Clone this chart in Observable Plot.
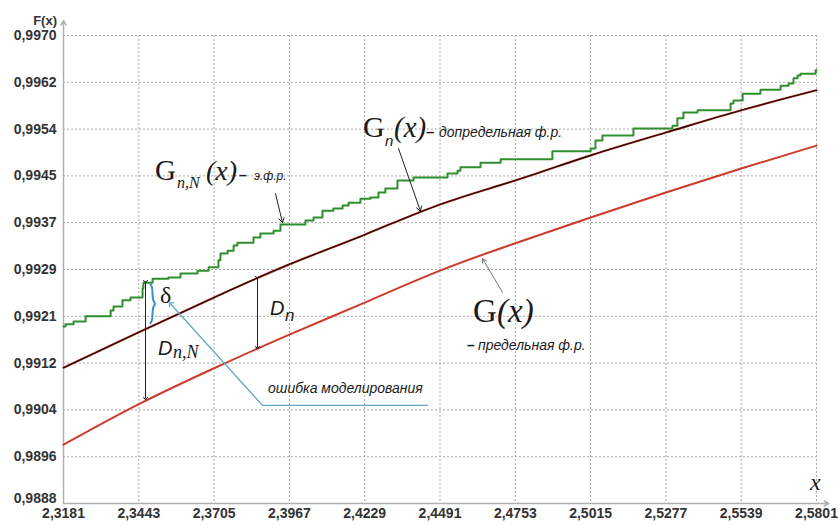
<!DOCTYPE html>
<html><head><meta charset="utf-8">
<script src="https://cdn.jsdelivr.net/npm/d3@7"></script>
<script src="https://cdn.jsdelivr.net/npm/@observablehq/plot@0.6"></script>
<style>
body{margin:0;background:#fff;}
#chart svg{display:block;}
</style></head><body><div id="chart"></div>
<script>
// ---- data ----
const xTickLabels = ["2,3181","2,3443","2,3705","2,3967","2,4229","2,4491","2,4753","2,5015","2,5277","2,5539","2,5801"];
const yTickLabels = ["0,9888","0,9896","0,9904","0,9912","0,9921","0,9929","0,9937","0,9945","0,9954","0,9962","0,9970"];
const xGrid = xTickLabels.map(s => +s.replace(",", "."));
// G(x) – limiting distribution, at grid x
const limitG = [0.98983,0.99054,0.99117,0.99176,0.99232,0.99288,0.99336,0.99381,0.99425,0.99467,0.99507];
// G_n(x) – pre-limit distribution, at grid x
const preG = [0.99118,0.99180,0.99241,0.99299,0.99351,0.99404,0.99446,0.99490,0.99530,0.99569,0.99604];
// G_{n,N}(x) – empirical distribution (step jumps)
const ecdfX = [2.3181,2.3188,2.3216,2.3258,2.3345,2.3355,2.3386,2.3414,2.3456,2.3459,2.3491,2.3546,2.3588,2.3647,2.3686,2.3720,2.3727,2.3752,2.3773,2.3786,2.3842,2.3866,2.3912,2.3936,2.4023,2.4051,2.4082,2.4120,2.4152,2.4173,2.4214,2.4249,2.4277,2.4301,2.4343,2.4399,2.4517,2.4552,2.4562,2.4632,2.4702,2.4882,2.5015,2.5032,2.5056,2.5164,2.5300,2.5317,2.5338,2.5387,2.5502,2.5512,2.5544,2.5606,2.5676,2.5704,2.5721,2.5735,2.5745,2.5798,2.5801];
const ecdfY = [0.99190,0.99194,0.99199,0.99208,0.99218,0.99225,0.99236,0.99241,0.99257,0.99267,0.99274,0.99276,0.99283,0.99288,0.99294,0.99306,0.99318,0.99323,0.99332,0.99337,0.99346,0.99353,0.99358,0.99369,0.99376,0.99381,0.99393,0.99397,0.99402,0.99407,0.99414,0.99416,0.99425,0.99432,0.99446,0.99451,0.99458,0.99463,0.99469,0.99477,0.99483,0.99497,0.99502,0.99516,0.99525,0.99537,0.99542,0.99555,0.99565,0.99569,0.99581,0.99586,0.99598,0.99605,0.99612,0.99616,0.99625,0.99630,0.99633,0.99639,0.99639];

// ---- build ----
const yDomain = [0.9888, 0.9970];
const xDomain = [xGrid[0], xGrid[xGrid.length - 1]];
const yTicks = yTickLabels.map((_, i) => yDomain[0] + i * (yDomain[1] - yDomain[0]) / (yTickLabels.length - 1));
const limData = xGrid.map((x, i) => ({x, y: limitG[i]}));
const preData = xGrid.map((x, i) => ({x, y: preG[i]}));
const ecdfData = ecdfX.map((x, i) => ({x, y: ecdfY[i]}));

const sans = "'Liberation Sans', Arial, sans-serif";
const serif = "'Liberation Serif', 'Times New Roman', serif";

const gridStyle = {stroke: "#a8a8a8", strokeOpacity: 1, strokeDasharray: "2,2", strokeWidth: 1};
const yAxisStyle = {tickSize: 0, tickPadding: 7, tickFormat: d => yTickLabels[yTicks.indexOf(d)], fontSize: 14, fontWeight: "bold", fill: "#333", label: null};

const plot = Plot.plot({
  width: 838, height: 525,
  marginLeft: 63, marginRight: 22, marginTop: 35, marginBottom: 22,
  style: {fontFamily: sans, background: "#fff", overflow: "visible"},
  x: {domain: xDomain},
  y: {domain: yDomain},
  marks: [
    Plot.gridX(xGrid.slice(1), gridStyle),
    Plot.gridY(yTicks.slice(1), gridStyle),
    Plot.axisX(xGrid, {tickSize: 0, tickPadding: 5, tickFormat: d => xTickLabels[xGrid.indexOf(d)], fontSize: 14, fontWeight: "bold", fill: "#333", label: null}),
    Plot.axisY(yTicks.slice(1), yAxisStyle),
    Plot.axisY(yTicks.slice(0, 1), {...yAxisStyle, dy: -5}),
    // axis lines with arrowheads
    Plot.arrow([
      {x1: xDomain[0], y1: yDomain[0], x2: 2.5843, y2: yDomain[0]},
      {x1: xDomain[0], y1: yDomain[0], x2: xDomain[0], y2: 0.99726}
    ], {x1: "x1", y1: "y1", x2: "x2", y2: "y2", stroke: "#b0b0b0", strokeWidth: 1.5, headLength: 5}),
    // curves
    Plot.line(limData, {x: "x", y: "y", stroke: "#cc3b2b", strokeWidth: 2, curve: "natural"}),
    Plot.line(preData, {x: "x", y: "y", stroke: "#b83a2a", strokeWidth: 2.2, curve: "natural"}),
    Plot.line(preData, {x: "x", y: "y", stroke: "#1a0505", strokeWidth: 1.1, curve: "natural"}),
    Plot.line(ecdfData, {x: "x", y: "y", stroke: "#2f8f2f", strokeWidth: 2, curve: "step-after"}),
    // pointer arrows
    Plot.arrow([
      {x1: 2.39186, y1: 0.99423, x2: 2.39430, y2: 0.99372},
      {x1: 2.43466, y1: 0.99502, x2: 2.44232, y2: 0.99392}
    ], {x1: "x1", y1: "y1", x2: "x2", y2: "y2", stroke: "#222", strokeWidth: 1, headLength: 8}),
    Plot.arrow([
      {x1: 2.47085, y1: 0.99250, x2: 2.46389, y2: 0.99309}
    ], {x1: "x1", y1: "y1", x2: "x2", y2: "y2", stroke: "#777", strokeWidth: 1, headLength: 7}),
    // D double arrows
    Plot.link([
      {x1: 2.34663, y1: 0.99269, x2: 2.34663, y2: 0.99064},
      {x1: 2.38560, y1: 0.99276, x2: 2.38560, y2: 0.99153}
    ], {x1: "x1", y1: "y1", x2: "x2", y2: "y2", stroke: "#222", strokeWidth: 1, markerStart: "arrow", markerEnd: "arrow"}),
    // modelling error pointer
    Plot.line([
      {x: 2.44475, y: 0.99052}, {x: 2.38734, y: 0.99052}, {x: 2.35533, y: 0.99230}
    ], {x: "x", y: "y", stroke: "#5fa8c8", strokeWidth: 1.3, markerEnd: "arrow"})
  ]
});
document.getElementById("chart").appendChild(plot);

const svg = d3.select(plot);
const X = v => plot.scale("x").apply(v);
const Y = v => plot.scale("y").apply(v);

function rich(xv, yv, parts, anchor = "start", fill = "#1a1a1a") {
  const t = svg.append("text").attr("text-anchor", anchor).attr("fill", fill);
  for (const p of parts) {
    t.append("tspan")
      .attr("x", X(xv) + (p.dx || 0)).attr("y", Y(yv) + (p.dy || 0))
      .attr("text-anchor", anchor)
      .style("font-family", p.serif ? serif : sans)
      .style("font-size", p.size + "px")
      .style("font-style", p.italic ? "italic" : "normal")
      .style("font-weight", p.bold ? "bold" : "normal")
      .text(p.t);
  }
}

// axis titles
rich(2.31601, 0.99718, [{t: "F(x)", size: 13, bold: true}], "end", "#333");
rich(2.57801, 0.98903, [{t: "x", size: 24, serif: true, italic: true}]);

// G_{n,N}(x) – э.ф.р.
rich(2.35011, 0.99446, [
  {t: "G", size: 29, serif: true},
  {t: "n,N", size: 16, serif: true, italic: true, dx: 22, dy: 8},
  {t: "(x)", size: 28, serif: true, italic: true, dx: 51},
  {t: "–", size: 14, bold: true, dx: 84},
  {t: "э.ф.р.", size: 12, italic: true, dx: 99}
]);
// G_n(x) – допредельная ф.р.
rich(2.42248, 0.99521, [
  {t: "G", size: 30, serif: true},
  {t: "n", size: 15, italic: true, dx: 22, dy: 9},
  {t: "(x)", size: 29, serif: true, italic: true, dx: 31},
  {t: "–", size: 15, bold: true, dx: 63},
  {t: "допредельная ф.р.", size: 14, italic: true, dx: 76}
]);
// G(x) – предельная ф.р.
rich(2.46076, 0.99197, [
  {t: "G", size: 33, serif: true},
  {t: "(x)", size: 33, serif: true, italic: true, dx: 24}
]);
rich(2.45867, 0.99148, [
  {t: "–", size: 14, bold: true},
  {t: "предельная ф.р.", size: 14, italic: true, dx: 11}
]);
// D_n
rich(2.39012, 0.99209, [
  {t: "D", size: 20, italic: true},
  {t: "n", size: 17, italic: true, dx: 15, dy: 6}
]);
// D_{n,N}
rich(2.35115, 0.99139, [
  {t: "D", size: 20, italic: true},
  {t: "n,N", size: 18, serif: true, italic: true, dx: 15, dy: 3}
]);
// delta
rich(2.35185, 0.99230, [{t: "δ", size: 24, serif: true}]);
// modelling error
rich(2.38943, 0.99073, [{t: "ошибка моделирования", size: 14, italic: true}]);

// blue brace
{
  const x0 = X(2.34837), y0 = Y(0.99264), y1 = Y(0.99194), ym = (y0 + y1) / 2, w = 5;
  const d = `M${x0},${y0} C${x0 + w},${y0 + 4} ${x0},${ym - 6} ${x0 + w},${ym} C${x0},${ym + 6} ${x0 + w},${y1 - 4} ${x0},${y1}`;
  svg.append("path").attr("d", d).attr("fill", "none").attr("stroke", "#3a8fd0").attr("stroke-width", 2);
}
</script>
</body></html>
